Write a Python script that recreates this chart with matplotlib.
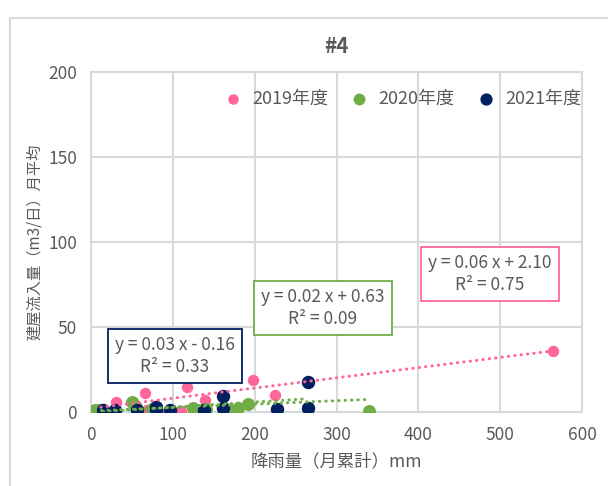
import numpy as np
import matplotlib
matplotlib.use("Agg")
import matplotlib.pyplot as plt
from matplotlib.patches import Rectangle

plt.rcParams["font.family"] = ["Noto Sans CJK JP", "DejaVu Sans"]

# 月ごとの降雨量 (mm) と建屋流入量 (m3/日)
x_2019 = [12, 30, 51, 66, 68, 78, 94, 110, 117, 139, 198, 225, 565]
y_2019 = [2, 6, 6, 11, 1, 0.5, 0.5, 0.5, 15, 7, 19, 10, 36]
x_2020 = [5, 10, 50, 55, 75, 125, 140, 169, 180, 192, 340]
y_2020 = [1, 1, 6, 3, 2, 2.5, 2, 1, 2.5, 4.5, 0.5]
x_2021 = [15, 29, 56, 79, 80, 97, 138, 161, 161, 227, 265, 265]
y_2021 = [1, 1, 1, 1, 3, 1, 1, 2.5, 9.5, 2, 2.5, 17.5]

# 近似直線 (傾き, 切片, R2)
fit_2019 = (0.06, 2.10, 0.75)
fit_2020 = (0.02, 0.63, 0.09)
fit_2021 = (0.03, -0.16, 0.33)

labels = ["2019年度", "2020年度", "2021年度"]
c_pink, c_green, c_navy = "#FF6699", "#70AD47", "#002060"
grid_c = "#D9D9D9"
txt_c = "#595959"

fig = plt.figure(figsize=(6.08, 4.86), dpi=100)
ax = fig.add_axes([91 / 608, 1 - 412 / 486, (582 - 91) / 608, (412 - 72) / 486])

# グラフ全体の枠
fig.patches.append(Rectangle((10 / 608, -0.1), 1.0, 1 - 18 / 486 + 0.1,
                             transform=fig.transFigure, fill=False,
                             edgecolor=grid_c, linewidth=1.5))

ax.scatter(x_2019, y_2019, s=52, color=c_pink, label=labels[0], zorder=3)
ax.scatter(x_2020, y_2020, s=70, color=c_green, label=labels[1], zorder=3)
ax.scatter(x_2021, y_2021, s=75, color=c_navy, label=labels[2], zorder=3)

# 近似直線（点線）
def trend(xs, fit, color):
    xx = np.array([min(xs), max(xs)])
    ax.plot(xx, fit[0] * xx + fit[1], color=color, linewidth=2.2,
            linestyle=(0, (0.1, 2.0)), dash_capstyle="round", zorder=4)

trend(x_2019, fit_2019, c_pink)
trend(x_2020, fit_2020, c_green)
trend(x_2021, fit_2021, c_green)

def eq_text(fit):
    sign = "+" if fit[1] >= 0 else "-"
    return f"y = {fit[0]:.2f} x {sign} {abs(fit[1]):.2f}\nR² = {fit[2]:.2f}"

box_kw = dict(ha="center", va="center", fontsize=12.5, color=txt_c,
              linespacing=1.25, transform=fig.transFigure, zorder=5)
fig.text(490 / 608, 1 - 274 / 486, eq_text(fit_2019),
         bbox=dict(boxstyle="square,pad=0.42", fc="white", ec=c_pink, lw=1.3), **box_kw)
fig.text(323 / 608, 1 - 308 / 486, eq_text(fit_2020),
         bbox=dict(boxstyle="square,pad=0.42", fc="white", ec=c_green, lw=1.3), **box_kw)
fig.text(175 / 608, 1 - 356 / 486, eq_text(fit_2021),
         bbox=dict(boxstyle="square,pad=0.42", fc="white", ec=c_navy, lw=1.3), **box_kw)

ax.set_xlim(0, 600)
ax.set_ylim(0, 200)
ax.set_xticks(np.arange(0, 601, 100))
ax.set_yticks(np.arange(0, 201, 50))
ax.grid(True, color=grid_c, linewidth=1.5)
ax.set_axisbelow(True)
for sp in ax.spines.values():
    sp.set_color(grid_c)
    sp.set_linewidth(1.5)
ax.tick_params(length=0, labelsize=12.5, colors=txt_c, pad=10)

ax.set_title("#4", fontsize=15, fontweight="semibold", color=txt_c, pad=14)
ax.set_xlabel("降雨量（月累計）mm", fontsize=12.5, color=txt_c, labelpad=6)
ax.set_ylabel("建屋流入量（m3/日）月平均", fontsize=11, color=txt_c, labelpad=4)

ax.legend(loc="upper right", bbox_to_anchor=(1.02, 0.98), ncol=3, frameon=False,
          fontsize=13, labelcolor=txt_c, handletextpad=0.05, columnspacing=0.75,
          markerscale=0.9, borderaxespad=0.2)

fig.savefig("out.png", dpi=100)
